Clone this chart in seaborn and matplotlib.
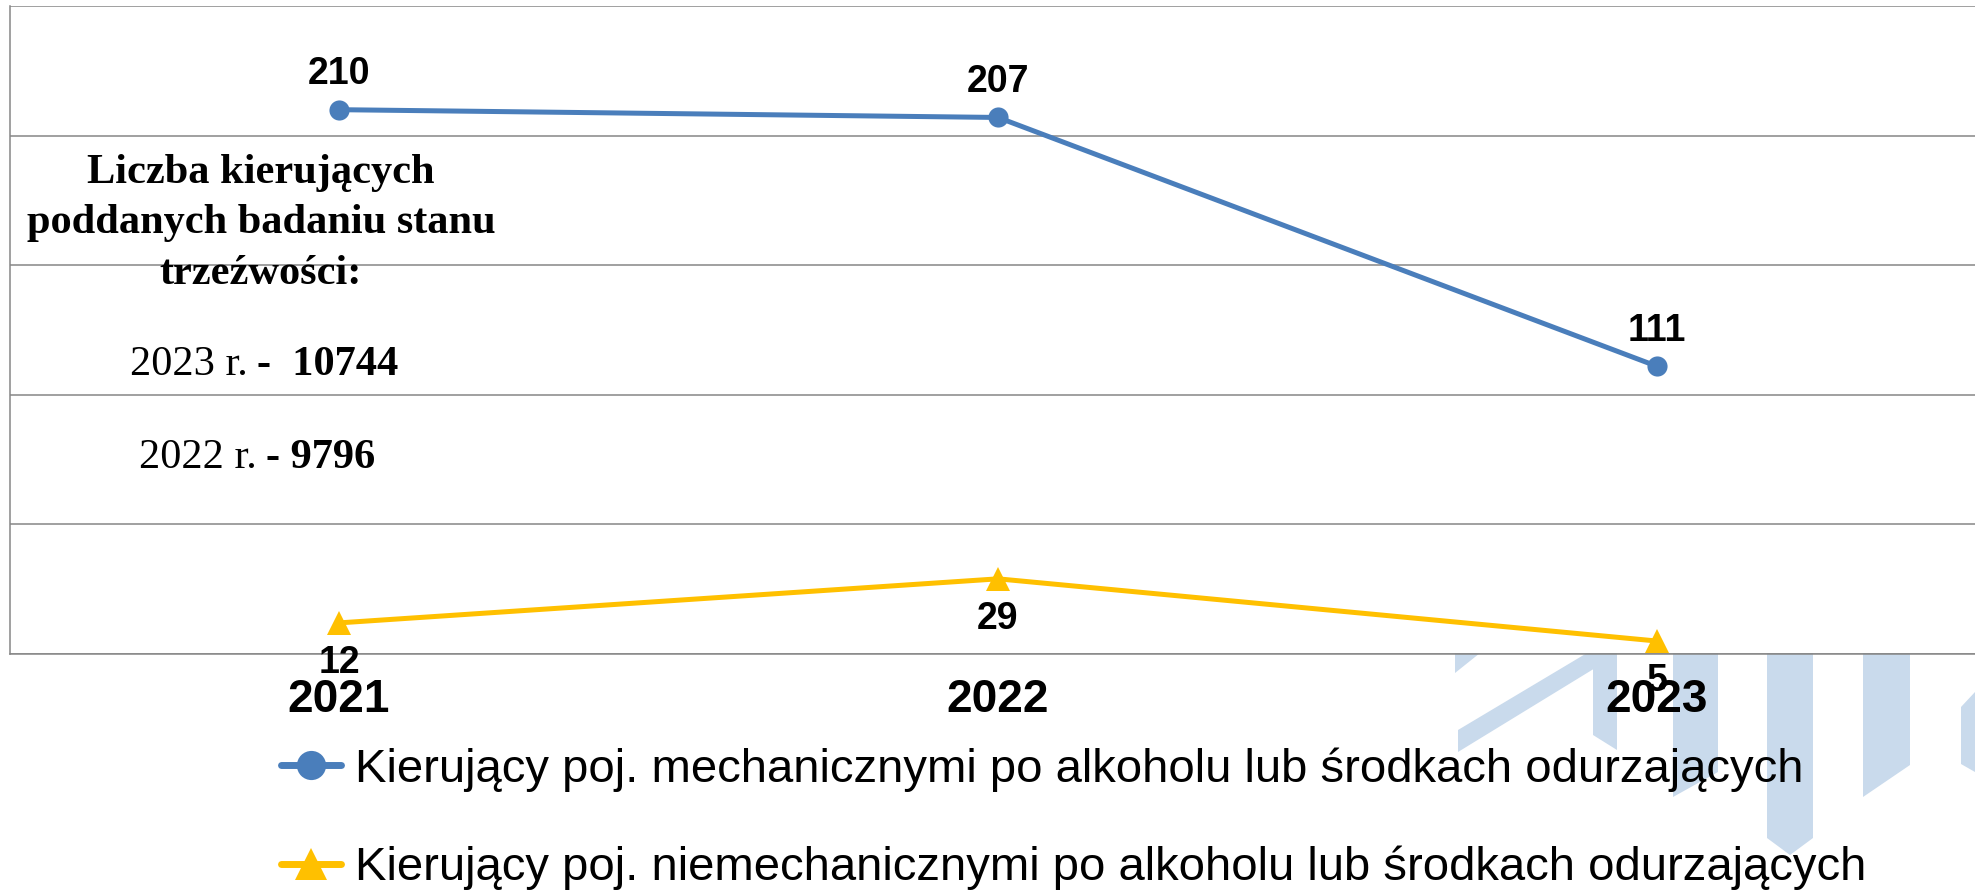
import numpy as np
import pandas as pd
import matplotlib
matplotlib.use("Agg")
import matplotlib.pyplot as plt
from matplotlib.lines import Line2D
from matplotlib.patches import Polygon
import seaborn as sns

# dane
years = ["2021", "2022", "2023"]
mech = [210, 207, 111]
niemech = [12, 29, 5]
series_names = [
    "Kierujący poj. mechanicznymi po alkoholu lub środkach odurzających",
    "Kierujący poj. niemechanicznymi po alkoholu lub środkach odurzających",
]
note_lines = ["Liczba kierujących", "poddanych badaniu stanu", "trzeźwości:"]
badania_lata = ["2023 r.", "2022 r."]
badania_liczba = ["-  10744", "- 9796"]

df_mech = pd.DataFrame({"rok": years, "liczba": mech})
df_niemech = pd.DataFrame({"rok": years, "liczba": niemech})

sns.set_style("white")
plt.rcParams["font.family"] = ["Liberation Sans", "DejaVu Sans"]
plt.rcParams["text.color"] = "black"

W, H = 1975, 890
BLUE = "#4A7EBB"
YELLOW = "#FFC000"
GRID = "#868686"

fig = plt.figure(figsize=(W / 100, H / 100), dpi=100)

# watermark (pale logo, bottom right)
wm_color = "#C9DAEC"
wm_shapes = [
    [(1455, 653), (1480, 653), (1455, 673)],
    [(1458, 730), (1587, 653), (1605, 653), (1605, 662), (1458, 752)],
    [(1593, 653), (1617, 653), (1617, 750), (1593, 735)],
    [(1673, 653), (1718, 653), (1718, 772), (1673, 797)],
    [(1767, 653), (1813, 653), (1813, 838), (1790, 855), (1767, 838)],
    [(1863, 653), (1910, 653), (1910, 765), (1863, 797)],
    [(1961, 707), (1975, 692), (1975, 772), (1961, 764)],
]
for shp in wm_shapes:
    pts = [(x / W, 1 - y / H) for x, y in shp]
    fig.add_artist(Polygon(pts, closed=True, facecolor=wm_color, edgecolor="none",
                           transform=fig.transFigure, zorder=-1))

ax = fig.add_axes([9.5 / W, 1 - 654 / H, 1977 / W, 648 / H])
ax.patch.set_alpha(0)

sns.lineplot(data=df_mech, x="rok", y="liczba", color=BLUE, marker="o",
             markersize=14.5, markeredgewidth=0, linewidth=3.6, sort=False, ax=ax)
sns.lineplot(data=df_niemech, x="rok", y="liczba", color=YELLOW, marker="^",
             markersize=17, markeredgewidth=0, linewidth=3.6, sort=False, ax=ax)

for i, v in enumerate(mech):
    ax.annotate(str(v), (i, v), xytext=(0, 25.5), textcoords="offset points",
                ha="center", va="center", fontsize=27, fontweight="bold")
for i, v in enumerate(niemech):
    ax.annotate(str(v), (i, v), xytext=(0, -29), textcoords="offset points",
                ha="center", va="center", fontsize=27, fontweight="bold")

ax.set_xlim(-0.5, 2.5)
ax.set_ylim(0, 250)
ax.set_yticks(np.arange(0, 251, 50))
ax.tick_params(axis="y", length=0, labelleft=False)
ax.yaxis.grid(True, color=GRID, linewidth=1.1)
ax.xaxis.grid(False)
ax.set_xticks(range(len(years)))
ax.set_xticklabels(years, fontsize=33, fontweight="bold")
ax.set_xticks(np.arange(-0.5, 2.6, 1), minor=True)
ax.tick_params(axis="x", which="major", length=0, pad=17, labelcolor="black")
ax.tick_params(axis="x", which="minor", length=9, width=1.1, color=GRID, direction="out")
ax.set_xlabel("")
ax.set_ylabel("")
for s in ["top", "right"]:
    ax.spines[s].set_visible(False)
for s in ["left", "bottom"]:
    ax.spines[s].set_color(GRID)
    ax.spines[s].set_linewidth(1.1)

# opis po lewej
note_y = [183, 233, 284]
for txt, y in zip(note_lines, note_y):
    fig.text(261 / W, 1 - y / H, txt, ha="center", va="baseline", fontsize=30.5,
             fontweight="bold", family="Liberation Serif")
for lab, num, y, xs in zip(badania_lata, badania_liczba, [375, 468], [248, 257]):
    fig.text(xs / W, 1 - y / H, lab, ha="right", va="baseline", fontsize=30.5,
             family="Liberation Serif")
    fig.text((xs + 9) / W, 1 - y / H, num, ha="left", va="baseline", fontsize=30.5,
             fontweight="bold", family="Liberation Serif")

handles = [
    Line2D([], [], color=BLUE, linewidth=5, marker="o", markersize=21, markeredgewidth=0),
    Line2D([], [], color=YELLOW, linewidth=5, marker="^", markersize=23, markeredgewidth=0),
]
fig.legend(handles, series_names, loc="upper left", bbox_to_anchor=(281 / W, 1 - 747 / H),
           frameon=False, fontsize=34, handlelength=1.26, handletextpad=0.3,
           labelspacing=1.15, borderpad=0, borderaxespad=0)

fig.savefig("out.png", dpi=100)
